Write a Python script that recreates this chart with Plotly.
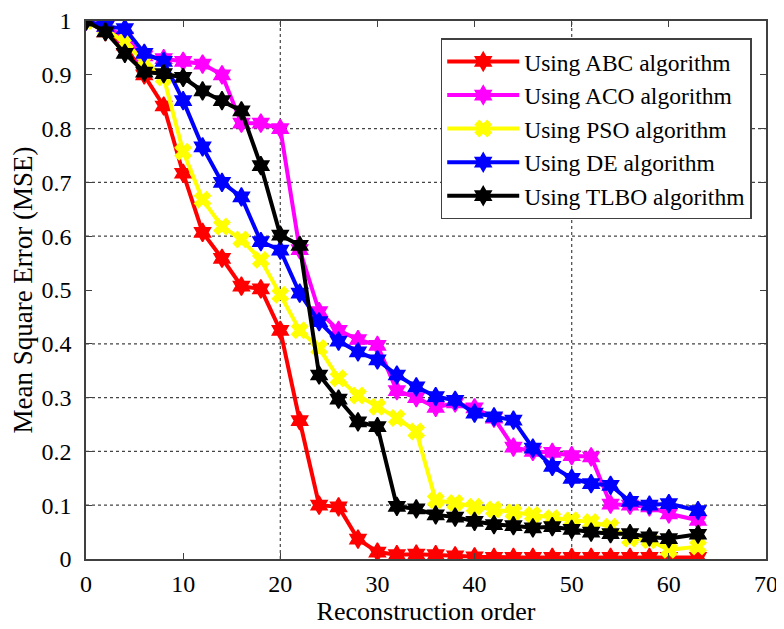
import plotly.graph_objects as go

order = [0, 2, 4, 6, 8, 10, 12, 14, 16, 18, 20, 22, 24, 26, 28, 30,
         32, 34, 36, 38, 40, 42, 44, 46, 48, 50, 52, 54, 56, 58, 60, 63]

abc = [1.0, 0.98, 0.955, 0.90, 0.842, 0.717, 0.607, 0.559, 0.507, 0.502, 0.425, 0.257,
       0.100, 0.097, 0.037, 0.013, 0.008, 0.009, 0.008, 0.006, 0.004, 0.003, 0.003, 0.003,
       0.003, 0.003, 0.003, 0.003, 0.003, 0.003, 0.003, 0.003]
aco = [1.0, 0.99, 0.97, 0.935, 0.93, 0.925, 0.92, 0.90, 0.81, 0.81, 0.80, 0.575,
       0.46, 0.425, 0.408, 0.397, 0.313, 0.30, 0.282, 0.29, 0.281, 0.262, 0.208, 0.20,
       0.198, 0.192, 0.19, 0.102, 0.10, 0.097, 0.084, 0.072]
pso = [1.0, 0.985, 0.96, 0.925, 0.895, 0.757, 0.668, 0.618, 0.594, 0.556, 0.491, 0.425,
       0.392, 0.336, 0.304, 0.283, 0.262, 0.237, 0.109, 0.104, 0.097, 0.092, 0.087, 0.082,
       0.076, 0.072, 0.069, 0.060, 0.038, 0.035, 0.017, 0.023]
de = [1.0, 0.99, 0.986, 0.94, 0.925, 0.852, 0.766, 0.70, 0.673, 0.59, 0.574, 0.494,
      0.441, 0.405, 0.385, 0.37, 0.342, 0.32, 0.302, 0.295, 0.271, 0.264, 0.258, 0.206,
      0.172, 0.15, 0.14, 0.137, 0.107, 0.10, 0.103, 0.09]
tlbo = [1.0, 0.98, 0.94, 0.905, 0.902, 0.895, 0.87, 0.852, 0.833, 0.731, 0.602, 0.583,
        0.342, 0.297, 0.255, 0.246, 0.098, 0.093, 0.082, 0.078, 0.07, 0.064, 0.062, 0.058,
        0.06, 0.055, 0.05, 0.047, 0.047, 0.041, 0.038, 0.046]

names = ["Using ABC algorithm", "Using ACO algorithm", "Using PSO algorithm",
         "Using DE algorithm", "Using TLBO algorithm"]
series = [abc, aco, pso, de, tlbo]
colors = ["#FF0000", "#FF00FF", "#FFFF00", "#0000FF", "#000000"]
symbols = ["hexagram", "hexagram", "x", "hexagram", "hexagram"]

x_ticks = [0, 10, 20, 30, 40, 50, 60, 70]
y_ticks = [0, 0.1, 0.2, 0.3, 0.4, 0.5, 0.6, 0.7, 0.8, 0.9, 1]
y_tick_text = ["0", "0.1", "0.2", "0.3", "0.4", "0.5", "0.6", "0.7", "0.8", "0.9", "1"]
grid_x = [20, 50]
grid_y = [0.1, 0.2, 0.3, 0.4, 0.6, 0.7, 0.8]

FONT = "Liberation Serif, Times New Roman, serif"
AX = "#404040"

fig = go.Figure()
for name, ys, c, s in zip(names, series, colors, symbols):
    fig.add_trace(go.Scatter(
        x=order, y=ys, name=name, mode="lines+markers",
        line=dict(color=c, width=4),
        marker=dict(symbol=s, size=14, color=c, line=dict(color=c, width=1.5)),
    ))

shapes = []
for gx in grid_x:
    shapes.append(dict(type="line", xref="x", yref="paper", x0=gx, x1=gx, y0=0, y1=1,
                       line=dict(color="#444444", width=1.2, dash="dot"), layer="below"))
for gy in grid_y:
    shapes.append(dict(type="line", xref="paper", yref="y", x0=0, x1=1, y0=gy, y1=gy,
                       line=dict(color="#444444", width=1.2, dash="dot"), layer="below"))

# page body has an 8px margin, so the figure is sized/margined to compensate
fig.update_layout(
    width=776, height=621,
    margin=dict(l=78, r=18, t=13, b=70, autoexpand=False),
    paper_bgcolor="white", plot_bgcolor="white",
    font=dict(family=FONT, color="#000000", size=24),
    shapes=shapes,
    showlegend=True,
    legend=dict(x=0.979, y=0.968, xanchor="right", yanchor="top",
                bgcolor="white", bordercolor=AX, borderwidth=1.5,
                font=dict(family=FONT, size=23.5, color="#000000"),
                itemwidth=72, tracegroupgap=0),
    xaxis=dict(range=[0, 70], tickvals=x_ticks, ticktext=[str(v) for v in x_ticks],
               showgrid=False, zeroline=False, showline=True, linecolor=AX, linewidth=1.5,
               mirror="ticks", ticks="inside", ticklen=6, tickcolor=AX, automargin=False,
               tickfont=dict(size=24, family=FONT), ticklabelstandoff=2,
               title=dict(text="Reconstruction order", font=dict(size=26, family=FONT), standoff=3)),
    yaxis=dict(range=[0, 1], tickvals=y_ticks, ticktext=y_tick_text,
               showgrid=False, zeroline=False, showline=True, linecolor=AX, linewidth=1.5,
               mirror="ticks", ticks="inside", ticklen=6, tickcolor=AX, automargin=False,
               tickfont=dict(size=24, family=FONT), ticklabelstandoff=8,
               title=dict(text="Mean Square Error (MSE)", font=dict(size=27, family=FONT), standoff=2)),
)

fig.write_html("out.html")
